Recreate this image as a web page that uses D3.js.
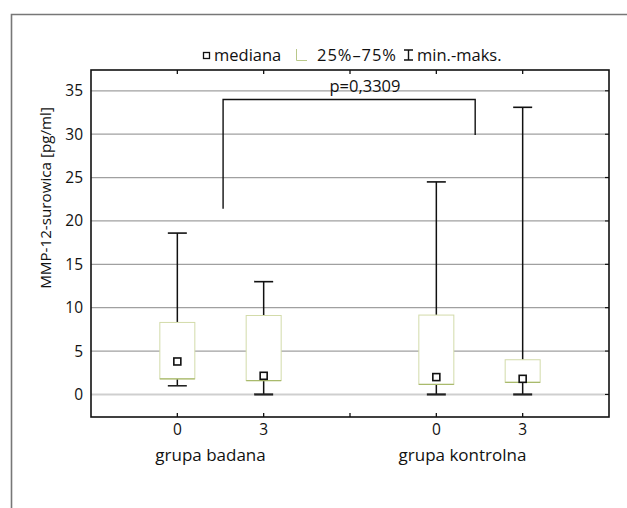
<!DOCTYPE html>
<html><head><meta charset="utf-8">
<script src="https://cdn.jsdelivr.net/npm/d3@7"></script>
<style>
html,body{margin:0;padding:0;background:#fff;}
svg text{font-family:"Open Sans","Noto Sans",sans-serif;fill:#111;}
</style></head>
<body>
<svg id="c" width="627" height="508"></svg>
<script>
// ---- data ----
const categories = ["0", "3", "0", "3"];
const groups = ["grupa badana", "grupa kontrolna"];
const mins    = [1.0, 0.0, 0.0, 0.0];
const q1      = [1.8, 1.6, 1.15, 1.4];
const medians = [3.8, 2.15, 2.0, 1.8];
const q3      = [8.3, 9.1, 9.15, 4.0];
const maxs    = [18.6, 13.0, 24.5, 33.1];
const yTicks  = [0, 5, 10, 15, 20, 25, 30, 35];
const yLabel  = "MMP-12-surowica [pg/ml]";
const legendLabels = ["mediana", "25%\u201375%", "min.-maks."];
const pText = "p=0,3309";
const bracketX = [1.53, 4.45];      // slot positions
const bracketY = [21.4, 34.0, 29.9]; // left foot, top, right foot

// ---- layout ----
const FS = 15.5, FL = 16.5;
const svg = d3.select("#c");
const L = 91, R = 609, T = 70, B = 417;
const slots = [1, 2, 4, 5];
const x = d3.scaleLinear().domain([0, 6]).range([L, R]);
const y = d3.scaleLinear().domain([-2.6, 37.4]).range([B, T]);

// outer frame (top + left)
svg.append("path").attr("d", `M11.5,508 V14.5 H627`).attr("fill", "none")
  .attr("stroke", "#777").attr("stroke-width", 1.6);

// gridlines
svg.append("g").selectAll("line").data(yTicks).join("line")
  .attr("x1", L).attr("x2", R - 4)
  .attr("y1", d => y(d)).attr("y2", d => y(d))
  .attr("stroke", d => d === 0 ? "#cfcfcf" : "#a0a0a0")
  .attr("stroke-width", d => d === 0 ? 2 : 1.2);

// axes
const yAxisL = d3.axisLeft(y).tickValues(yTicks).tickSize(0).tickPadding(8);
const gy = svg.append("g").attr("transform", `translate(${L},0)`).call(yAxisL);
gy.select(".domain").remove();
gy.selectAll("text").attr("font-size", FS).style("font-family", '"Open Sans","Noto Sans",sans-serif').attr("fill", "#111");

// inner tick marks
const tickSlots = [1, 2, 3, 4, 5];
svg.append("g").selectAll("line").data(tickSlots).join("line")
  .attr("x1", d => x(d)).attr("x2", d => x(d)).attr("y1", B).attr("y2", B - 4)
  .attr("stroke", "#111").attr("stroke-width", 1.3);
svg.append("g").selectAll("line").data(tickSlots).join("line")
  .attr("x1", d => x(d)).attr("x2", d => x(d)).attr("y1", T).attr("y2", T + 4)
  .attr("stroke", "#111").attr("stroke-width", 1.3);
svg.append("g").selectAll("line").data(yTicks).join("line")
  .attr("x1", R).attr("x2", R - 4).attr("y1", d => y(d)).attr("y2", d => y(d))
  .attr("stroke", "#111").attr("stroke-width", 1.3);

// plot frame
svg.append("rect").attr("x", L).attr("y", T).attr("width", R - L).attr("height", B - T)
  .attr("fill", "none").attr("stroke", "#111").attr("stroke-width", 1.6);

// x labels
svg.append("g").selectAll("text").data(categories).join("text")
  .attr("x", (d, i) => x(slots[i])).attr("y", 435)
  .attr("text-anchor", "middle").attr("font-size", FS).text(d => d);
const groupCenters = [x(1.5) - 10, x(4.5) - 17];
svg.append("g").selectAll("text").data(groups).join("text")
  .attr("x", (d, i) => groupCenters[i]).attr("y", 461)
  .attr("text-anchor", "middle").attr("font-size", FL + 0.5).text(d => d);

// y label
svg.append("text").attr("transform", `translate(51,${198}) rotate(-90)`)
  .attr("text-anchor", "middle").attr("font-size", FS - 0.3).text(yLabel);

// boxes
const bw = 35, cw = 19;
const g = svg.append("g");
categories.forEach((c, i) => {
  const cx = x(slots[i]);
  g.append("line").attr("x1", cx).attr("x2", cx).attr("y1", y(q3[i])).attr("y2", y(maxs[i]))
    .attr("stroke", "#111").attr("stroke-width", 1.5);
  g.append("line").attr("x1", cx).attr("x2", cx).attr("y1", y(q1[i])).attr("y2", y(mins[i]))
    .attr("stroke", "#111").attr("stroke-width", 1.5);
  g.append("line").attr("x1", cx - cw / 2).attr("x2", cx + cw / 2).attr("y1", y(maxs[i])).attr("y2", y(maxs[i]))
    .attr("stroke", "#111").attr("stroke-width", 1.6);
  g.append("line").attr("x1", cx - cw / 2).attr("x2", cx + cw / 2).attr("y1", y(mins[i])).attr("y2", y(mins[i]))
    .attr("stroke", "#222").attr("stroke-width", mins[i] === 0 ? 2.2 : 1.6);
  g.append("rect").attr("x", cx - bw / 2).attr("y", y(q3[i])).attr("width", bw)
    .attr("height", y(q1[i]) - y(q3[i])).attr("fill", "#fff")
    .attr("stroke", "#d3dbaa").attr("stroke-width", 1);
  g.append("line").attr("x1", cx - bw / 2).attr("x2", cx + bw / 2).attr("y1", y(q1[i])).attr("y2", y(q1[i]))
    .attr("stroke", "#a9ba6c").attr("stroke-width", 1.2);
  g.append("rect").attr("x", cx - 3.5).attr("y", y(medians[i]) - 3.5).attr("width", 7).attr("height", 7)
    .attr("fill", "#fff").attr("stroke", "#111").attr("stroke-width", 1.6);
});

// bracket
svg.append("path")
  .attr("d", `M${x(bracketX[0])},${y(bracketY[0])} V${y(bracketY[1])} H${x(bracketX[1])} V${y(bracketY[2])}`)
  .attr("fill", "none").attr("stroke", "#111").attr("stroke-width", 1.4);
svg.append("text").attr("x", 365).attr("y", 92).attr("text-anchor", "middle")
  .attr("font-size", FL).text(pText);

// legend
const lg = svg.append("g");
lg.append("rect").attr("x", 203.5).attr("y", 52.5).attr("width", 6).attr("height", 6)
  .attr("fill", "#fff").attr("stroke", "#111").attr("stroke-width", 1.3);
lg.append("text").attr("x", 214).attr("y", 61).attr("font-size", FL).text(legendLabels[0]);
lg.append("path").attr("d", "M296.5,49 V60.5 H307").attr("fill", "none")
  .attr("stroke", "#b9c88a").attr("stroke-width", 1);
lg.append("text").attr("x", 317).attr("y", 61).attr("font-size", FL)
  .attr("textLength", 79).text(legendLabels[1]);
lg.append("path").attr("d", "M404,50 H413 M408.5,50 V60 M404,60 H413").attr("fill", "none")
  .attr("stroke", "#111").attr("stroke-width", 1.4);
lg.append("text").attr("x", 417).attr("y", 61).attr("font-size", FL).text(legendLabels[2]);
</script>
</body></html>
